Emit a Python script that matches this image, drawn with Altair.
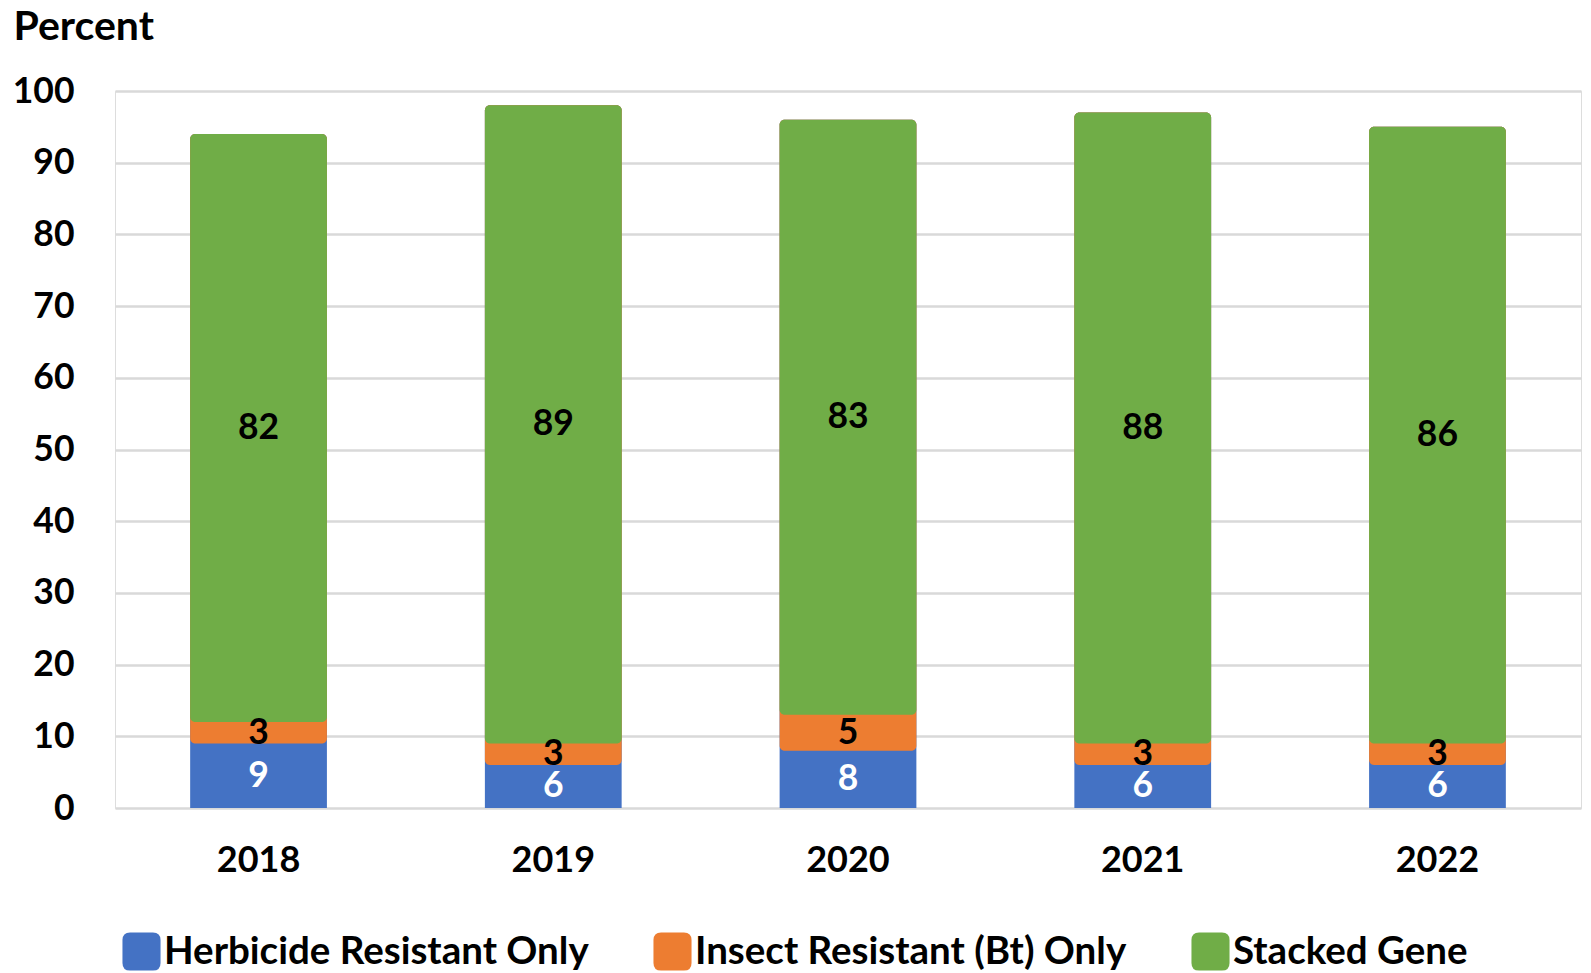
import altair as alt
import pandas as pd

years = ["2018", "2019", "2020", "2021", "2022"]
series = ["Herbicide Resistant Only", "Insect Resistant (Bt) Only", "Stacked Gene"]
herbicide = [9, 6, 8, 6, 6]
insect = [3, 3, 5, 3, 3]
stacked = [82, 89, 83, 88, 86]
colors = ["#4472C4", "#ED7D31", "#70AD47"]

rows = []
for i, y in enumerate(years):
    for k, (name, vals) in enumerate(zip(series, [herbicide, insect, stacked])):
        rows.append({"year": y, "series": name, "order": k, "value": vals[i]})
df = pd.DataFrame(rows)

FONT = "Lato"

base = alt.Chart(df).transform_stack(
    stack="value", groupby=["year"], sort=[alt.SortField("order")], as_=["y0", "y1"]
).transform_joinaggregate(
    total="sum(value)", groupby=["year"]
).transform_calculate(mid="(datum.y0 + datum.y1) / 2")

x_enc = alt.X("year:N", sort=years,
              scale=alt.Scale(paddingInner=0.536, paddingOuter=0.255),
              axis=alt.Axis(title=None, labelAngle=0, labelFont=FONT, labelFontSize=36,
                            labelFontWeight="bold", labelColor="black", labelPadding=35,
                            ticks=False, domain=False))

y_enc = alt.Y("y0:Q", scale=alt.Scale(domain=[0, 100]),
              axis=alt.Axis(title="Percent", titleAngle=0, titleX=-102, titleY=-52,
                            titleAlign="left", titleBaseline="alphabetic", titleFont=FONT,
                            titleFontSize=41, titleFontWeight="bold", titleColor="black",
                            values=list(range(0, 101, 10)), labelFont=FONT, labelFontSize=35.5,
                            labelFontWeight="bold", labelColor="black", labelPadding=41,
                            ticks=False, domain=False, gridColor="#d9d9d9", gridWidth=2.5))

color_enc = alt.Color("series:N", sort=series,
                      scale=alt.Scale(domain=series, range=colors),
                      legend=alt.Legend(title=None, orient="none", direction="horizontal",
                                        legendX=7, legendY=841,
                                        symbolType="M-1,-0.6Q-1,-1,-0.6,-1L0.6,-1Q1,-1,1,-0.6L1,0.6Q1,1,0.6,1L-0.6,1Q-1,1,-1,0.6Z",
                                        symbolSize=1450, symbolStrokeWidth=0, symbolOpacity=1,
                                        labelFont=FONT, labelFontSize=38.5, labelFontWeight="bold",
                                        labelColor="black", labelOffset=3, columnPadding=64,
                                        labelLimit=600))

bottom_bars = base.transform_filter("datum.order == 0").mark_bar(
    cornerRadiusTopLeft=5, cornerRadiusTopRight=5
).encode(x=x_enc, y=y_enc, y2="total:Q", color=color_enc)

upper_bars = base.transform_filter("datum.order > 0").mark_bar(cornerRadius=5).encode(
    x=x_enc, y=y_enc, y2="total:Q", color=color_enc, order=alt.Order("order:Q")
)

labels = base.mark_text(font=FONT, fontSize=35.5, fontWeight="bold", baseline="middle").encode(
    x=alt.X("year:N", sort=years),
    y=alt.Y("mid:Q"),
    text=alt.Text("value:Q"),
    color=alt.condition("datum.order == 0", alt.value("white"), alt.value("black")),
)

chart = alt.layer(bottom_bars, upper_bars, labels).properties(
    width=1466, height=717,
    autosize=alt.AutoSizeParams(type="none"),
    padding={"left": 107, "top": 83, "right": 2, "bottom": 165},
).configure_view(stroke=None).configure(background="white")

chart.save("out.html", embed_options={"renderer": "svg", "actions": False})
